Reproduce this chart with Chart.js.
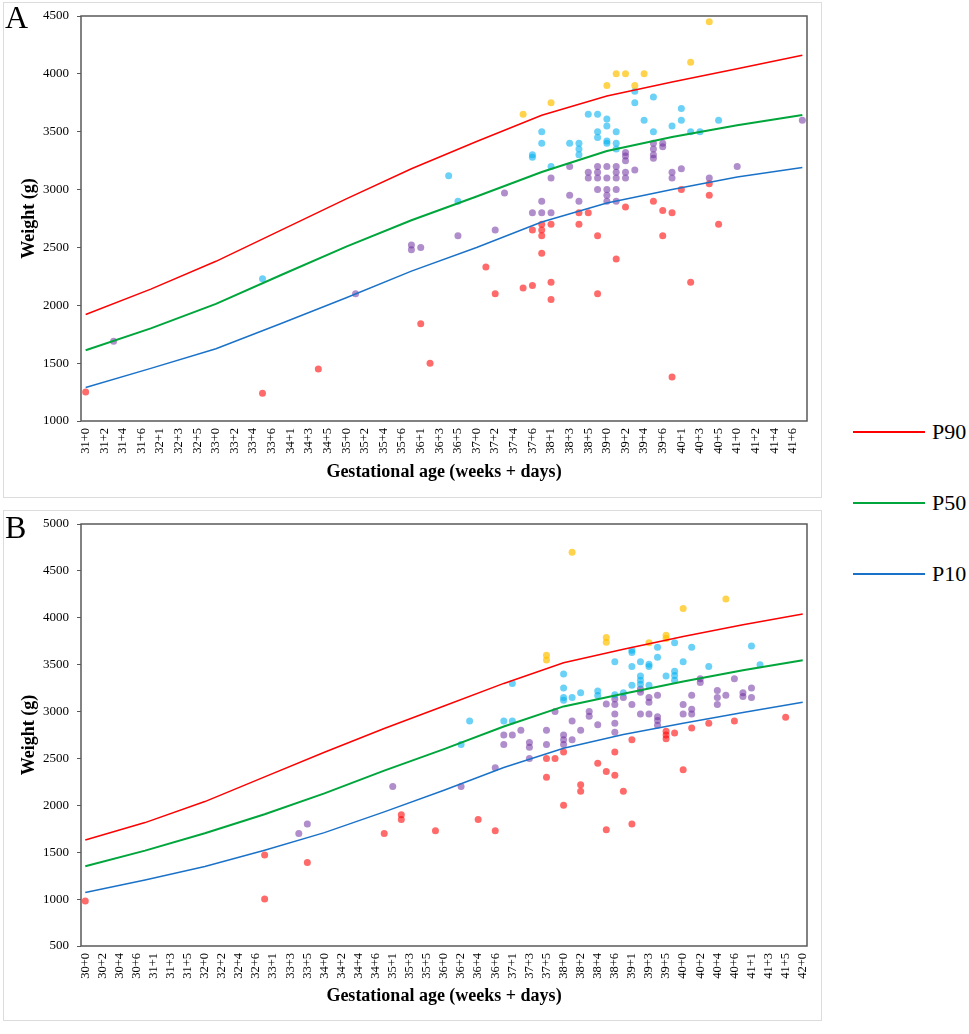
<!DOCTYPE html>
<html>
<head>
<meta charset="utf-8">
<script src="https://cdn.jsdelivr.net/npm/chart.js@4.4.1/dist/chart.umd.min.js"></script>
<style>
  body { margin: 0; background: #fff; font-family: 'Liberation Serif', serif; }
  #page { position: relative; width: 969px; height: 1034px; }
  .box { position: absolute; box-sizing: border-box; border: 1px solid #dcdcdc; }
  .wrap { position: absolute; left: 0; width: 820px; }
  .letter { position: absolute; left: 5px; font-size: 32px; line-height: 32px; }
  .leg { position: absolute; left: 853px; width: 116px; height: 0; }
  .leg .ln { position: absolute; left: 0; width: 72px; }
  .leg span { position: absolute; left: 79px; top: -13px; font-size: 22px; line-height: 26px; }
</style>
</head>
<body>
<div id="page">
  <div class="box" style="left:3px;top:2px;width:819px;height:496px"></div>
  <div class="box" style="left:3px;top:510px;width:819px;height:511px"></div>
  <div class="wrap" style="top:0;height:497px"><canvas id="chartA"></canvas></div>
  <div class="wrap" style="top:508px;height:512px"><canvas id="chartB"></canvas></div>
  <div class="letter" style="top:1px">A</div>
  <div class="letter" style="top:511px">B</div>
  <div class="leg" style="top:432px"><div class="ln" style="top:-1px;height:1.6px;background:#ff0000"></div><span>P90</span></div>
  <div class="leg" style="top:503px"><div class="ln" style="top:-1px;height:2.2px;background:#00a63c"></div><span>P50</span></div>
  <div class="leg" style="top:574px"><div class="ln" style="top:-1px;height:1.6px;background:#1a72c8"></div><span>P10</span></div>
</div>
<script>
// ---- panel A ----
const ticksA = ['31+0','31+2','31+4','31+6','32+1','32+3','32+5','33+0','33+2','33+4','33+6','34+1','34+3','34+5',
  '35+0','35+2','35+4','35+6','36+1','36+3','36+5','37+0','37+2','37+4','37+6','38+1','38+3','38+5','39+0','39+2',
  '39+4','39+6','40+1','40+3','40+5','41+0','41+2','41+4','41+6'];
const weeksA = ['31+0','32+0','33+0','34+0','35+0','36+0','37+0','38+0','39+0','40+0','41+0','42+0'];
const p90A = [1920, 2140, 2380, 2650, 2920, 3180, 3415, 3642, 3809, 3930, 4045, 4160];
const p50A = [1612, 1800, 2012, 2262, 2507, 2735, 2940, 3152, 3333, 3454, 3555, 3645];
const p10A = [1290, 1455, 1625, 1842, 2065, 2295, 2500, 2720, 2884, 3000, 3109, 3190];

const redAgeA = ['31+0','33+5','34+4','36+1','36+2','37+1','37+2','37+5','37+6','37+6','38+0','38+0','38+0','38+0',
  '38+1','38+1','38+1','38+4','38+4','38+5','38+6','38+6','39+1','39+2','39+5','39+6','39+6','40+0','40+0','40+1',
  '40+2','40+4','40+4','40+5'];
const redWtA = [1250, 1240, 1450, 1840, 1500, 2330, 2100, 2150, 2650, 2170, 2700, 2650, 2600, 2450,
  2700, 2200, 2050, 2800, 2700, 2800, 2600, 2100, 2400, 2850, 2900, 2820, 2600, 2800, 1380, 3000,
  2200, 3050, 2950, 2700];
const purpleAgeA = ['31+3','35+1','36+0','36+0','36+1','36+5','37+2','37+3','37+6','38+0','38+0','38+1','38+1',
  '38+3','38+3','38+4','38+5','38+5','38+6','38+6','38+6','38+6','39+0','39+0','39+0','39+0','39+0',
  '39+1','39+1','39+1','39+1','39+1','39+2','39+2','39+2','39+2','39+2','39+3','39+5','39+5','39+5','39+5',
  '39+6','39+6','40+0','40+0','40+1','40+4','41+0','42+0'];
const purpleWtA = [1690, 2100, 2520, 2480, 2500, 2600, 2650, 2970, 2800, 2900, 2800, 3100, 2800,
  3200, 2950, 2900, 3150, 3100, 3200, 3150, 3100, 3000, 3200, 3100, 3000, 2950, 2900,
  3200, 3150, 3100, 3000, 2900, 3320, 3290, 3250, 3150, 3100, 3170, 3400, 3350, 3300, 3270,
  3400, 3370, 3150, 3100, 3180, 3100, 3200, 3600];
const cyanAgeA = ['33+5','36+4','36+5','37+6','37+6','38+0','38+0','38+1','38+3','38+4','38+4','38+4','38+5',
  '38+6','38+6','38+6','39+0','39+0','39+0','39+0','39+1','39+1','39+1','39+3','39+3','39+4','39+5','39+5',
  '40+0','40+1','40+1','40+2','40+3','40+5'];
const cyanWtA = [2230, 3120, 2900, 3300, 3280, 3500, 3400, 3200, 3400, 3400, 3350, 3300, 3650,
  3650, 3500, 3450, 3610, 3550, 3420, 3400, 3500, 3400, 3350, 3850, 3750, 3600, 3800, 3500,
  3550, 3700, 3600, 3500, 3500, 3600];
const yellowAgeA = ['37+5','38+1','39+0','39+1','39+2','39+3','39+4','40+2','40+4'];
const yellowWtA = [3650, 3750, 3900, 4000, 4000, 3900, 4000, 4100, 4450];

// ---- panel B ----
const ticksB = ['30+0','30+2','30+4','30+6','31+1','31+3','31+5','32+0','32+2','32+4','32+6','33+1','33+3','33+5',
  '34+0','34+2','34+4','34+6','35+1','35+3','35+5','36+0','36+2','36+4','36+6','37+1','37+3','37+5','38+0','38+2',
  '38+4','38+6','39+1','39+3','39+5','40+0','40+2','40+4','40+6','41+1','41+3','41+5','42+0'];
const weeksB = ['30+0','31+0','32+0','33+0','34+0','35+0','36+0','37+0','38+0','39+0','40+0','41+0','42+0'];
const p90B = [1630, 1816, 2040, 2303, 2566, 2820, 3060, 3300, 3520, 3665, 3801, 3926, 4040];
const p50B = [1350, 1517, 1702, 1905, 2127, 2370, 2600, 2840, 3055, 3190, 3320, 3440, 3548];
const p10B = [1070, 1204, 1347, 1522, 1709, 1930, 2160, 2403, 2608, 2755, 2875, 2990, 3100];

const redAgeB = ['30+0','33+0','33+0','33+5','35+0','35+2','35+2','35+6','36+4','36+6','37+5','37+5','37+6',
  '38+0','38+0','38+2','38+2','38+4','38+5','38+5','38+6','38+6','39+0','39+1','39+1','39+5','39+5','39+5',
  '39+6','40+0','40+1','40+3','40+6','41+5'];
const redWtB = [980, 1470, 1000, 1390, 1700, 1900, 1850, 1730, 1850, 1730, 2500, 2300, 2500,
  2570, 2000, 2220, 2150, 2450, 2360, 1740, 2570, 2320, 2150, 2700, 1800, 2790, 2750, 2710,
  2770, 2380, 2825, 2875, 2900, 2940];
const purpleAgeB = ['33+4','33+5','35+1','36+2','36+6','37+0','37+0','37+1','37+2','37+3','37+3','37+3','37+5',
  '37+5','37+6','38+0','38+0','38+0','38+1','38+1','38+2','38+3','38+3','38+4','38+5','38+6','38+6','38+6',
  '38+6','38+6','39+0','39+1','39+2','39+2','39+2','39+3','39+3','39+3','39+4','39+4','39+4','39+4',
  '40+0','40+0','40+1','40+1','40+1','40+2','40+2','40+4','40+4','40+4','40+5','40+6','41+0','41+0',
  '41+1','41+1'];
const purpleWtB = [1700, 1800, 2200, 2200, 2400, 2750, 2650, 2750, 2800, 2670, 2620, 2500, 2800,
  2650, 3000, 2750, 2700, 2650, 2900, 2700, 2800, 3000, 2950, 2860, 3080, 3135, 3075, 2975,
  2875, 2780, 3150, 3075, 3240, 3205, 2975, 3150, 3100, 2975, 3175, 2945, 2905, 2855,
  3075, 2975, 3175, 3025, 2975, 3350, 3310, 3225, 3150, 3075, 3175, 3350, 3200, 3160,
  3250, 3150];
const cyanAgeB = ['36+2','36+3','37+0','37+1','37+1','38+0','38+0','38+0','38+0','38+1','38+2','38+4','38+4',
  '38+6','38+6','39+0','39+1','39+1','39+1','39+1','39+2','39+2','39+2','39+2','39+3','39+3','39+3',
  '39+4','39+4','39+5','39+6','39+6','39+6','39+6','40+0','40+1','40+3','41+1','41+2'];
const cyanWtB = [2650, 2900, 2900, 3300, 2900, 3400, 3250, 3150, 3120, 3150, 3200, 3220, 3170,
  3530, 3180, 3200, 3655, 3630, 3480, 3280, 3530, 3380, 3335, 3290, 3505, 3480, 3280,
  3685, 3580, 3380, 3735, 3430, 3385, 3335, 3530, 3685, 3480, 3700, 3500];
const yellowAgeB = ['37+5','37+5','38+1','38+5','38+5','39+3','39+5','39+5','40+0','40+5'];
const yellowWtB = [3600, 3550, 4700, 3790, 3740, 3735, 3815, 3780, 4100, 4200];

const toDay = s => { const [w, d] = s.split('+').map(Number); return w * 7 + d; };
const pts = (ages, wts) => ages.map((a, i) => ({ x: toDay(a), y: wts[i] }));

Chart.defaults.font.family = "'Liberation Serif', 'Times New Roman', serif";
Chart.defaults.color = '#000';

const frame = {
  id: 'frame',
  afterDraw(c) {
    const { ctx, chartArea: a } = c;
    ctx.save();
    ctx.strokeStyle = '#595959';
    ctx.lineWidth = 1.5;
    ctx.strokeRect(a.left, a.top, a.right - a.left, a.bottom - a.top);
    ctx.restore();
  }
};

function line(data, color, w) {
  return { data, showLine: true, borderColor: color, borderWidth: w, pointRadius: 0,
    tension: 0, fill: false };
}
function dots(data, color) {
  return { data, backgroundColor: color, pointRadius: 3.5, pointBorderWidth: 0, borderWidth: 0,
    pointHoverRadius: 3.5 };
}

function makeChart(id, o) {
  new Chart(document.getElementById(id), {
    type: 'scatter',
    data: {
      datasets: [
        line(pts(o.weeks, o.p90), '#ff0000', 1.5),
        line(pts(o.weeks, o.p50), '#00a63c', 2),
        line(pts(o.weeks, o.p10), '#1a72c8', 1.5),
        dots(pts(o.yellowAge, o.yellowWt), 'rgba(255,192,0,0.7)'),
        dots(pts(o.cyanAge, o.cyanWt), 'rgba(0,176,240,0.58)'),
        dots(pts(o.purpleAge, o.purpleWt), 'rgba(112,48,160,0.55)'),
        dots(pts(o.redAge, o.redWt), 'rgba(255,0,0,0.58)')
      ]
    },
    options: {
      responsive: true,
      maintainAspectRatio: false,
      animation: false,
      layout: { padding: { top: 16, right: 13, left: 0, bottom: 0 } },
      plugins: { legend: { display: false }, tooltip: { enabled: false } },
      scales: {
        x: {
          type: 'linear',
          min: toDay(o.ticks[0]) - 0.5,
          max: toDay(o.weeks[o.weeks.length - 1]) + 0.5,
          afterBuildTicks: s => { s.ticks = o.ticks.map(t => ({ value: toDay(t) })); },
          afterFit: s => { s.height = o.xHeight; s.paddingLeft = 0; s.paddingRight = 0; },
          grid: { display: false, drawTicks: false },
          border: { display: false },
          ticks: {
            autoSkip: false, minRotation: 90, maxRotation: 90, padding: 7,
            font: { size: 12.5 }, color: '#000',
            callback: (v, i) => o.ticks[i]
          },
          title: {
            display: true, text: 'Gestational age (weeks + days)', color: '#000',
            font: { size: 18, weight: 'bold' }, padding: { top: 0, bottom: o.xTitlePad }
          }
        },
        y: {
          min: o.yMin, max: o.yMax,
          afterFit: s => { s.width = 81; },
          grid: { drawOnChartArea: false, drawTicks: true, tickLength: 4, color: '#595959', lineWidth: 1 },
          border: { display: false },
          ticks: { stepSize: 500, padding: 8, font: { size: 13 }, color: '#000', callback: v => String(v) },
          title: {
            display: true, text: 'Weight (g)', color: '#000',
            font: { size: 18, weight: 'bold' }, padding: { top: 19, bottom: 0 }
          }
        }
      }
    },
    plugins: [frame]
  });
}

makeChart('chartA', {
  ticks: ticksA, weeks: weeksA, p90: p90A, p50: p50A, p10: p10A,
  redAge: redAgeA, redWt: redWtA, purpleAge: purpleAgeA, purpleWt: purpleWtA,
  cyanAge: cyanAgeA, cyanWt: cyanWtA, yellowAge: yellowAgeA, yellowWt: yellowWtA,
  yMin: 1000, yMax: 4500, xHeight: 76, xTitlePad: 14
});
makeChart('chartB', {
  ticks: ticksB, weeks: weeksB, p90: p90B, p50: p50B, p10: p10B,
  redAge: redAgeB, redWt: redWtB, purpleAge: purpleAgeB, purpleWt: purpleWtB,
  cyanAge: cyanAgeB, cyanWt: cyanWtB, yellowAge: yellowAgeB, yellowWt: yellowWtB,
  yMin: 500, yMax: 5000, xHeight: 74, xTitlePad: 13
});
</script>
</body>
</html>
